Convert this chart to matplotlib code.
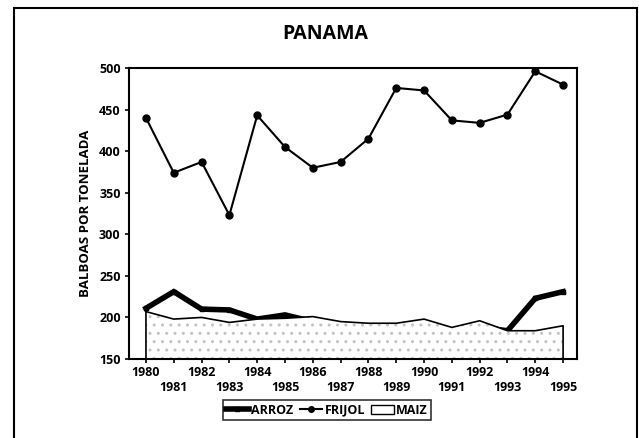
import matplotlib
matplotlib.use("Agg")
import matplotlib.pyplot as plt
from matplotlib.patches import Rectangle
from matplotlib.lines import Line2D
from matplotlib.patches import Patch
import numpy as np

years = list(range(1980, 1996))
frijol = [440, 374, 387, 323, 443, 405, 380, 387, 415, 476, 473, 437, 434, 444, 496, 480]
arroz = [211, 231, 210, 209, 198, 203, 195, 190, 188, 188, 190, 185, 188, 184, 223, 231]
maiz = [207, 198, 200, 194, 198, 199, 201, 195, 193, 193, 198, 188, 196, 184, 184, 190]

plt.rcParams['font.family'] = ['Open Sans', 'DejaVu Sans']

fig = plt.figure(figsize=(6.39, 4.38), dpi=100)
ax = fig.add_axes([129/639, 1-359/438, (577-129)/639, (359-68)/438])

# outer frame
fig.patches.append(Rectangle((14/639, -0.05), (637-14)/639, 1.05-8/438, transform=fig.transFigure,
                             fill=False, edgecolor='black', linewidth=1.5))

ax.plot(years, arroz, color='black', linewidth=4, marker='s', markersize=3, zorder=1,
        solid_joinstyle='miter')
ax.fill_between(years, 150, maiz, facecolor='white', edgecolor='#c4c4c4', hatch='..',
                linewidth=0, zorder=2)
xs = [years[0]] + years + [years[-1]]
ys = [150] + maiz + [150]
ax.plot(xs, ys, color='black', linewidth=1.2, zorder=3)
ax.plot(years, frijol, color='black', linewidth=1.5, marker='o', markersize=5, zorder=4)

ax.set_xlim(1979.39, 1995.5)
ax.set_ylim(150, 500)
ax.set_yticks(range(150, 501, 50))
ax.set_xticks(years)
ax.set_xticklabels([str(y) if y % 2 == 0 else '\n' + str(y) for y in years])
ax.tick_params(axis='both', direction='out', length=3, width=1.2, labelsize=9, pad=3)
ax.tick_params(axis='x', pad=2)
for lab in ax.get_xticklabels() + ax.get_yticklabels():
    lab.set_fontweight('bold')
for s in ax.spines.values():
    s.set_linewidth(1.5)

ax.set_ylabel('BALBOAS POR TONELADA', fontsize=9.5, fontweight='bold', labelpad=5)
fig.text(325/639, 1-34/438, 'PANAMA', ha='center', va='center', fontsize=14, fontweight='bold')

handles = [Line2D([], [], color='black', linewidth=4, marker='s', markersize=3),
           Line2D([], [], color='black', linewidth=1.5, marker='o', markersize=4),
           Patch(facecolor='white', edgecolor='black', linewidth=1)]
leg = fig.legend(handles, ['ARROZ', 'FRIJOL', 'MAIZ'], loc='center', bbox_to_anchor=(327/639, 1-410/438),
                 ncol=3, frameon=True, fancybox=False, edgecolor='black',
                 handlelength=1.8, handletextpad=0.2, columnspacing=0.5, borderpad=0.25,
                 prop={'weight': 'bold', 'size': 9})
leg.get_frame().set_linewidth(1.2)

fig.savefig('out.png', dpi=100)
